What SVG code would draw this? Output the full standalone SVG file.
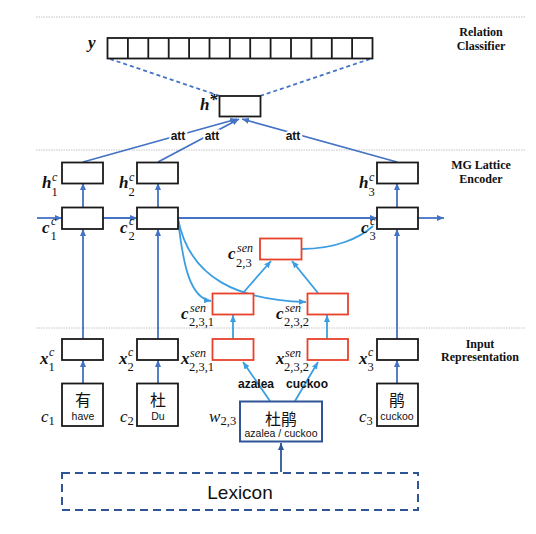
<svg xmlns="http://www.w3.org/2000/svg" width="536" height="534" viewBox="0 0 536 534">
<defs>
<marker id="ab" markerUnits="userSpaceOnUse" markerWidth="7" markerHeight="6" refX="7" refY="3" orient="auto"><path d="M0,0 L7,3 L0,6 z" fill="#4472c4"/></marker>
<marker id="al" markerUnits="userSpaceOnUse" markerWidth="7" markerHeight="6" refX="7" refY="3" orient="auto"><path d="M0,0 L7,3 L0,6 z" fill="#3c9ee2"/></marker>
<marker id="an" markerUnits="userSpaceOnUse" markerWidth="7" markerHeight="6" refX="7" refY="3" orient="auto"><path d="M0,0 L7,3 L0,6 z" fill="#2f5597"/></marker>
</defs>
<style>
.sep{stroke:#c4c4c4;stroke-width:1;stroke-dasharray:1.5 1}
.bx{fill:#fff;stroke:#1a1a1a;stroke-width:1.8}
.rb{fill:#fff;stroke:#e8412c;stroke-width:1.8}
.db{stroke:#4472c4;stroke-width:1.8;fill:none}
.lb{stroke:#3c9ee2;stroke-width:1.8;fill:none}
.sec{font-family:"Liberation Serif",serif;font-weight:bold;font-size:12px;text-anchor:middle;fill:#111}
.mb{font-family:"Liberation Serif",serif;font-weight:bold;font-style:italic;font-size:17px;fill:#111}
.mi{font-family:"Liberation Serif",serif;font-style:italic;font-size:17px;fill:#111}
.sp{font-family:"Liberation Serif",serif;font-style:italic;font-size:12px;fill:#111}
.sb{font-family:"Liberation Serif",serif;font-size:12.5px;fill:#111}
.att{font-family:"Liberation Sans",Arial,sans-serif;font-weight:bold;font-size:12px;text-anchor:middle;fill:#111;stroke:#fff;stroke-width:4;paint-order:stroke}
.cn{font-family:"Liberation Sans","Noto Sans CJK SC",sans-serif;font-size:16px;text-anchor:middle;fill:#111}
.en{font-family:"Liberation Sans",Arial,sans-serif;font-size:10.5px;text-anchor:middle;fill:#111}
.wd{font-family:"Liberation Sans",Arial,sans-serif;font-weight:bold;font-size:12px;text-anchor:middle;fill:#111}
</style>
<rect width="536" height="534" fill="#fff"/>
<g id="separators">
<line class="sep" x1="36" y1="17" x2="525" y2="17"/>
<line class="sep" x1="36" y1="150" x2="525" y2="150"/>
<line class="sep" x1="36" y1="328" x2="525" y2="328"/>
</g>
<g id="section-labels">
<text class="sec" x="481" y="36">Relation</text>
<text class="sec" x="481" y="50">Classifier</text>
<text class="sec" x="481" y="169">MG Lattice</text>
<text class="sec" x="481" y="183">Encoder</text>
<text class="sec" x="480" y="348">Input</text>
<text class="sec" x="480" y="361">Representation</text>
</g>
<g id="connectors">
<line class="db" x1="110" y1="59" x2="220" y2="96" stroke-dasharray="4 3"/>
<line class="db" x1="370" y1="59" x2="260" y2="96" stroke-dasharray="4 3"/>
<line class="db" x1="83" y1="162" x2="237" y2="119" marker-end="url(#ab)"/>
<line class="db" x1="158" y1="162" x2="239" y2="119" marker-end="url(#ab)"/>
<line class="db" x1="397" y1="162" x2="242" y2="119" marker-end="url(#ab)"/>
<line class="db" x1="37" y1="218" x2="62" y2="218" marker-end="url(#ab)"/>
<line class="db" x1="103" y1="218" x2="137" y2="218" marker-end="url(#ab)"/>
<line class="db" x1="178" y1="218" x2="377" y2="218" marker-end="url(#ab)"/>
<line class="db" x1="418" y1="218" x2="444" y2="218" marker-end="url(#ab)"/>
<line class="db" x1="83" y1="207" x2="83" y2="183" marker-end="url(#ab)"/>
<line class="db" x1="158" y1="207" x2="158" y2="183" marker-end="url(#ab)"/>
<line class="db" x1="397" y1="207" x2="397" y2="183" marker-end="url(#ab)"/>
<line class="db" x1="83" y1="339" x2="83" y2="229" marker-end="url(#ab)"/>
<line class="db" x1="158" y1="339" x2="158" y2="229" marker-end="url(#ab)"/>
<line class="db" x1="397" y1="339" x2="397" y2="229" marker-end="url(#ab)"/>
<line class="db" x1="83" y1="383" x2="83" y2="360" marker-end="url(#ab)"/>
<line class="db" x1="158" y1="383" x2="158" y2="360" marker-end="url(#ab)"/>
<line class="db" x1="397" y1="383" x2="397" y2="360" marker-end="url(#ab)"/>
<path class="lb" d="M178,219 C183,265 190,298 211,301" marker-end="url(#al)"/>
<path class="lb" d="M178,219 C190,280 240,300 306,302" marker-end="url(#al)"/>
<path class="lb" d="M302,249 C335,249 360,238 373,226"/>
<line class="lb" x1="243" y1="293" x2="271" y2="261" marker-end="url(#al)"/>
<line class="lb" x1="318" y1="293" x2="292" y2="261" marker-end="url(#al)"/>
<line class="lb" x1="233" y1="339" x2="233" y2="315" marker-end="url(#al)"/>
<line class="lb" x1="327" y1="339" x2="327" y2="315" marker-end="url(#al)"/>
<line class="lb" x1="270" y1="401" x2="243" y2="362" marker-end="url(#al)"/>
<line class="lb" x1="295" y1="401" x2="318" y2="362" marker-end="url(#al)"/>
<line x1="281" y1="472" x2="281" y2="443" stroke="#2f5597" stroke-width="1.8" marker-end="url(#an)"/>
<text class="att" x="178" y="140">att</text>
<text class="att" x="212" y="140">att</text>
<text class="att" x="293" y="140">att</text>
</g>
<g id="y-output">
<rect class="bx" x="107.5" y="38" width="265" height="20.5"/>
<path d="M127.9,38v20.5M148.3,38v20.5M168.7,38v20.5M189.1,38v20.5M209.5,38v20.5M229.8,38v20.5M250.2,38v20.5M270.6,38v20.5M291,38v20.5M311.4,38v20.5M331.8,38v20.5M352.1,38v20.5" stroke="#1a1a1a" stroke-width="1.8"/>
<text class="mb" x="88" y="48" font-size="13">y</text>
</g>
<g id="h-star">
<rect class="bx" x="219.5" y="96" width="41" height="20.5"/>
<text class="mb" x="200" y="110" font-size="15">h</text>
<text class="mb" x="209" y="105" font-size="12">*</text>
</g>
<g id="h1">
<rect class="bx" x="62" y="162.5" width="41" height="21"/>
<text class="mb" x="42" y="188">h</text><text class="sp" x="52" y="181">c</text><text class="sb" x="51.5" y="196">1</text>
</g>
<g id="h2">
<rect class="bx" x="137" y="162.5" width="41" height="21"/>
<text class="mb" x="119" y="188">h</text><text class="sp" x="129" y="181">c</text><text class="sb" x="128.5" y="196">2</text>
</g>
<g id="h3">
<rect class="bx" x="377" y="162.5" width="41" height="21"/>
<text class="mb" x="359" y="188">h</text><text class="sp" x="369" y="181">c</text><text class="sb" x="368.5" y="196">3</text>
</g>
<g id="c1">
<rect class="bx" x="62" y="207.5" width="41" height="21.5"/>
<text class="mb" x="42" y="233">c</text><text class="sp" x="51" y="225">c</text><text class="sb" x="50.5" y="240">1</text>
</g>
<g id="c2">
<rect class="bx" x="137" y="207.5" width="41" height="21.5"/>
<text class="mb" x="120" y="233">c</text><text class="sp" x="129" y="225">c</text><text class="sb" x="128.5" y="240">2</text>
</g>
<g id="c3">
<rect class="bx" x="377" y="207.5" width="41" height="21.5"/>
<text class="mb" x="361" y="233">c</text><text class="sp" x="370" y="225">c</text><text class="sb" x="369.5" y="240">3</text>
</g>
<g id="c-sen-23">
<rect class="rb" x="260" y="238.5" width="41.5" height="21"/>
<text class="mb" x="228" y="259">c</text><text class="sp" x="237" y="252">sen</text><text class="sb" x="236" y="267">2,3</text>
</g>
<g id="c-sen-231">
<rect class="rb" x="212.5" y="293.5" width="41" height="21"/>
<text class="mb" x="181" y="319">c</text><text class="sp" x="190" y="312">sen</text><text class="sb" x="189" y="326">2,3,1</text>
</g>
<g id="c-sen-232">
<rect class="rb" x="307.5" y="293.5" width="40.5" height="21"/>
<text class="mb" x="276" y="319">c</text><text class="sp" x="285" y="312">sen</text><text class="sb" x="284" y="326">2,3,2</text>
</g>
<g id="x1">
<rect class="bx" x="62" y="339" width="41" height="21"/>
<text class="mb" x="40" y="364">x</text><text class="sp" x="49" y="356">c</text><text class="sb" x="48.5" y="371">1</text>
</g>
<g id="x2">
<rect class="bx" x="137" y="339" width="41" height="21"/>
<text class="mb" x="119" y="364">x</text><text class="sp" x="128" y="356">c</text><text class="sb" x="127.5" y="371">2</text>
</g>
<g id="x-sen-231">
<rect class="rb" x="212.5" y="339" width="41" height="21"/>
<text class="mb" x="181" y="364">x</text><text class="sp" x="190" y="357">sen</text><text class="sb" x="189" y="371">2,3,1</text>
</g>
<g id="x-sen-232">
<rect class="rb" x="307.5" y="339" width="40.5" height="21"/>
<text class="mb" x="276" y="364">x</text><text class="sp" x="285" y="357">sen</text><text class="sb" x="284" y="371">2,3,2</text>
</g>
<g id="x3">
<rect class="bx" x="377" y="339" width="41" height="21"/>
<text class="mb" x="359" y="364">x</text><text class="sp" x="368" y="356">c</text><text class="sb" x="367.5" y="371">3</text>
</g>
<g id="word-labels">
<text class="wd" x="256" y="388">azalea</text>
<text class="wd" x="307" y="388">cuckoo</text>
</g>
<g id="char1">
<rect class="bx" x="62" y="383.5" width="41" height="42.5"/>
<text class="cn" x="83" y="406">有</text>
<text class="en" x="83" y="420">have</text>
<text class="mi" x="41" y="422">c</text><text class="sb" x="48.5" y="425">1</text>
</g>
<g id="char2">
<rect class="bx" x="137" y="383.5" width="41" height="42.5"/>
<text class="cn" x="158" y="406">杜</text>
<text class="en" x="158" y="420">Du</text>
<text class="mi" x="120" y="422">c</text><text class="sb" x="127.5" y="425">2</text>
</g>
<g id="char3">
<rect class="bx" x="377" y="383.5" width="41" height="42.5"/>
<text class="cn" x="397" y="406">鹃</text>
<text class="en" x="397" y="420">cuckoo</text>
<text class="mi" x="359" y="422">c</text><text class="sb" x="366.5" y="425">3</text>
</g>
<g id="word23">
<rect x="240" y="401.5" width="82" height="40" fill="#fff" stroke="#2f5597" stroke-width="2"/>
<text class="cn" x="281" y="425">杜鹃</text>
<text class="en" x="281" y="437" font-size="11">azalea / cuckoo</text>
<text class="mi" x="209" y="422">w</text><text class="sb" x="220.5" y="425">2,3</text>
</g>
<g id="lexicon">
<rect x="62" y="473" width="356" height="37" fill="none" stroke="#2f5597" stroke-width="2" stroke-dasharray="8 5"/>
<text x="240" y="499" font-family="Liberation Sans, Arial, sans-serif" font-size="19" text-anchor="middle" fill="#111">Lexicon</text>
</g>
</svg>
